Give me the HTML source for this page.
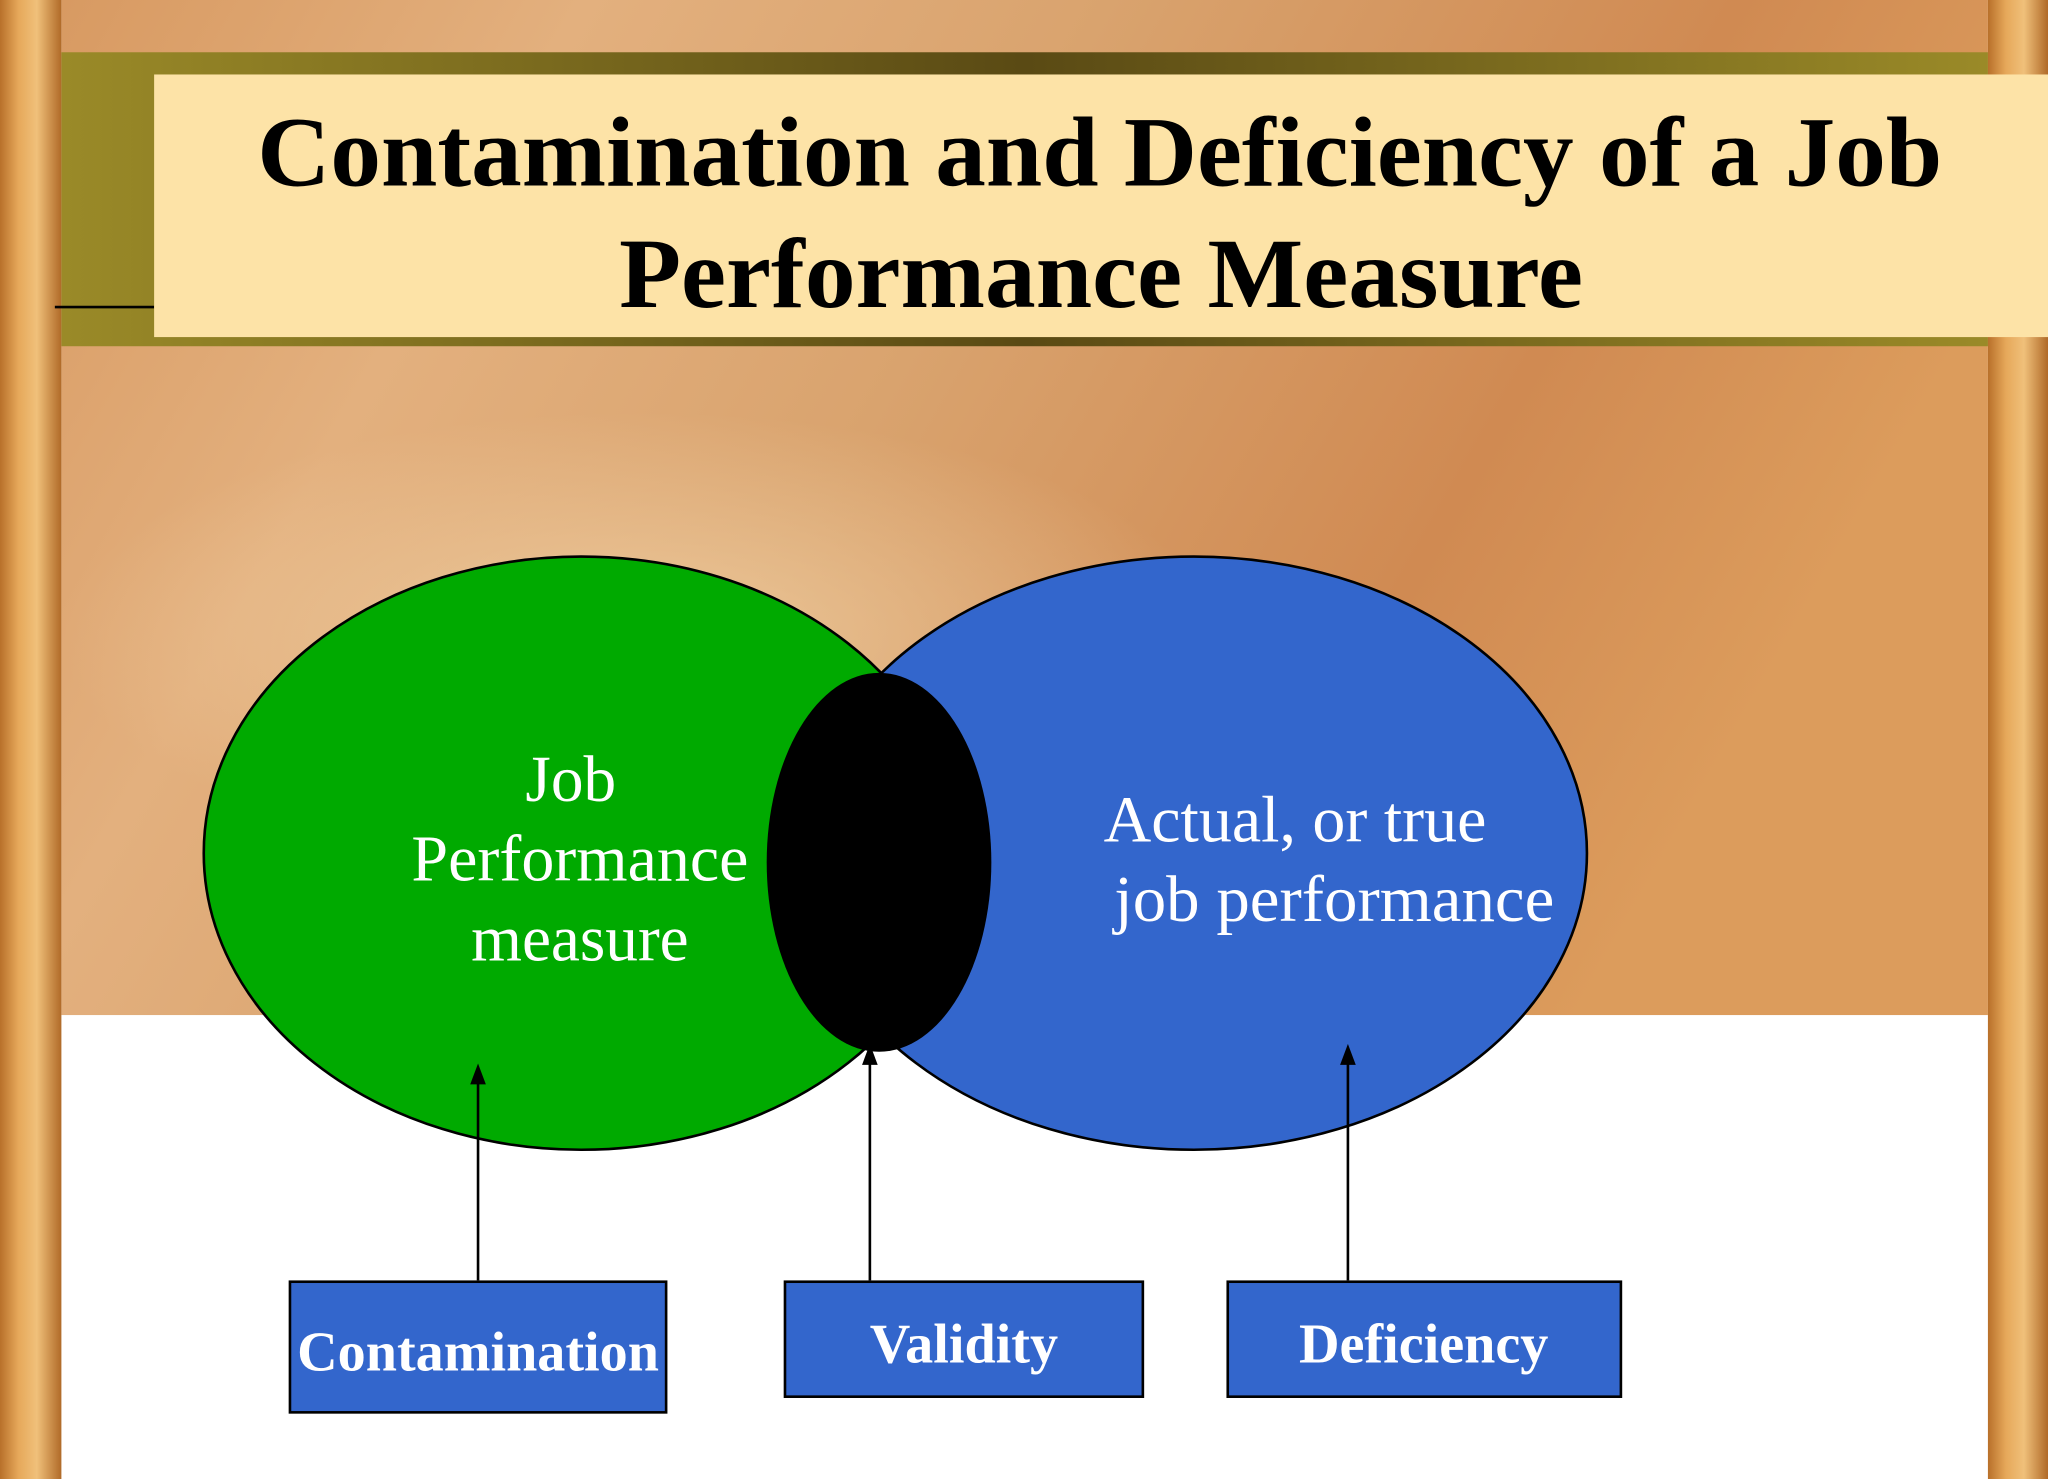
<!DOCTYPE html>
<html><head><meta charset="utf-8"><style>
html,body{margin:0;padding:0;width:2048px;height:1479px;overflow:hidden;background:#fff}
svg{display:block}
text{font-family:"Liberation Serif",serif}
</style></head><body>
<svg width="2048" height="1479" viewBox="0 0 1568 1132" preserveAspectRatio="none" xmlns="http://www.w3.org/2000/svg">
<defs>
<linearGradient id="wood" x1="0" x2="1" y1="0" y2="0">
<stop offset="0" stop-color="#b8702a"/><stop offset="0.3" stop-color="#e6a85a"/><stop offset="0.6" stop-color="#f0c07a"/><stop offset="1" stop-color="#b06a28"/>
</linearGradient>
<linearGradient id="bg" x1="0" x2="1" y1="0" y2="0.3">
<stop offset="0" stop-color="#d89a62"/><stop offset="0.25" stop-color="#e3b07e"/><stop offset="0.5" stop-color="#d9a36e"/><stop offset="0.8" stop-color="#d08a52"/><stop offset="1" stop-color="#dc9c5c"/>
</linearGradient>
<radialGradient id="glow" cx="0.3" cy="0.5" r="0.3">
<stop offset="0" stop-color="#f0d0a4" stop-opacity="0.8"/><stop offset="1" stop-color="#f0d0a4" stop-opacity="0"/>
</radialGradient>
<linearGradient id="olive" x1="0" x2="1">
<stop offset="0" stop-color="#9a8a28"/><stop offset="0.5" stop-color="#5a4a14"/><stop offset="1" stop-color="#9a8a28"/>
</linearGradient>
<marker id="ah" markerWidth="8" markerHeight="8" refX="4" refY="4" orient="auto"><path d="M0,1 L8,4 L0,7 z" fill="#000"/></marker>
</defs>
<rect x="47" y="0" width="1475" height="777" fill="url(#bg)"/>
<rect x="47" y="200" width="1475" height="577" fill="url(#glow)"/>
<rect x="47" y="777" width="1475" height="355" fill="#fff"/>
<rect x="0" y="0" width="47" height="1132" fill="url(#wood)"/>
<rect x="1522" y="0" width="46" height="1132" fill="url(#wood)"/>
<rect x="47" y="40" width="1475" height="225" fill="url(#olive)"/>
<line x1="42" y1="235" x2="118" y2="235" stroke="#000" stroke-width="2"/>
<rect x="118" y="57" width="1450" height="201" fill="#fde3a7"/>
<text x="197" y="142" font-size="76" font-weight="bold" textLength="1290" lengthAdjust="spacingAndGlyphs">Contamination and Deficiency of a Job</text>
<text x="474" y="235" font-size="76" font-weight="bold" textLength="738" lengthAdjust="spacingAndGlyphs">Performance Measure</text>
<ellipse cx="445" cy="653" rx="289" ry="227" fill="#00aa00" stroke="#000" stroke-width="2"/>
<ellipse cx="914" cy="653" rx="301" ry="227" fill="#3366cc" stroke="#000" stroke-width="2"/>
<ellipse cx="673" cy="660" rx="86" ry="145" fill="#000"/>
<g fill="#fff" font-size="50">
<text x="437" y="613" text-anchor="middle">Job</text>
<text x="315" y="674" textLength="258" lengthAdjust="spacingAndGlyphs">Performance</text>
<text x="444" y="735" text-anchor="middle">measure</text>
<text x="845" y="644" textLength="293" lengthAdjust="spacingAndGlyphs">Actual, or true</text>
<text x="853" y="705" textLength="337" lengthAdjust="spacingAndGlyphs">job performance</text>
</g>
<g stroke="#000" stroke-width="2">
<line x1="366" y1="980" x2="366" y2="822" marker-end="url(#ah)"/>
<line x1="666" y1="980" x2="666" y2="807" marker-end="url(#ah)"/>
<line x1="1032" y1="980" x2="1032" y2="807" marker-end="url(#ah)"/>
</g>
<g stroke="#000" stroke-width="2" fill="#3366cc">
<rect x="222" y="981" width="288" height="100"/>
<rect x="601" y="981" width="274" height="88"/>
<rect x="940" y="981" width="301" height="88"/>
</g>
<g fill="#fff" font-size="43" font-weight="bold" text-anchor="middle">
<text x="366" y="1049" textLength="277" lengthAdjust="spacingAndGlyphs">Contamination</text>
<text x="738" y="1043">Validity</text>
<text x="1090" y="1043">Deficiency</text>
</g>
</svg>
</body></html>
